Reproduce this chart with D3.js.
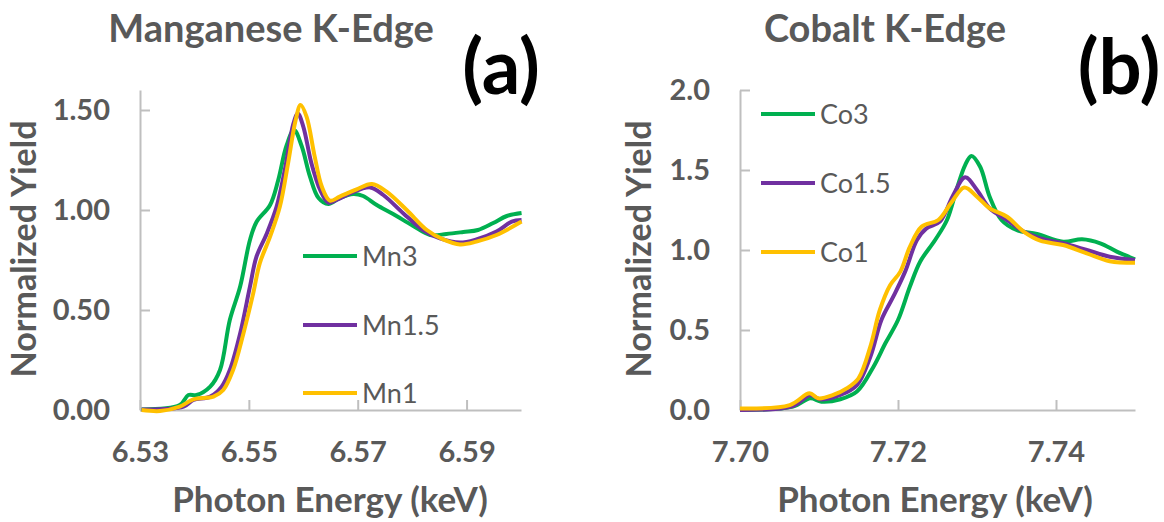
<!DOCTYPE html>
<html>
<head>
<meta charset="utf-8">
<script src="https://cdn.jsdelivr.net/npm/d3@7"></script>
<style>
  body { margin: 0; background: #fff; }
  svg { display: block; font-family: Lato, "Open Sans", sans-serif; }
</style>
</head>
<body>
<svg id="chart" width="1164" height="522"></svg>
<script>
// Mn K-edge, [energy keV, normalized yield]
var mn3 = [[6.5303,0.003],[6.5373,0.025],[6.5389,0.075],[6.5404,0.075],[6.5429,0.117],[6.5447,0.2],[6.5465,0.45],[6.5484,0.617],[6.5502,0.85],[6.5514,0.94],[6.5539,1.025],[6.5554,1.15],[6.5569,1.32],[6.5583,1.40],[6.5597,1.32],[6.5612,1.17],[6.5628,1.06],[6.5646,1.03],[6.5667,1.06],[6.5692,1.08],[6.5710,1.07],[6.5735,1.025],[6.5765,0.98],[6.5802,0.92],[6.5833,0.875],[6.5863,0.88],[6.5894,0.89],[6.5921,0.90],[6.5949,0.935],[6.5974,0.97],[6.6001,0.985]];
var mn15 = [[6.5303,0.003],[6.5380,0.017],[6.5398,0.05],[6.5429,0.067],[6.5450,0.117],[6.5465,0.2],[6.5484,0.383],[6.5502,0.617],[6.5514,0.767],[6.5533,0.883],[6.5551,1.017],[6.5566,1.20],[6.5582,1.433],[6.5590,1.483],[6.5600,1.417],[6.5615,1.233],[6.5631,1.10],[6.5646,1.037],[6.5661,1.05],[6.5686,1.083],[6.5723,1.113],[6.5747,1.075],[6.5784,0.983],[6.5820,0.90],[6.5851,0.858],[6.5888,0.837],[6.5918,0.853],[6.5955,0.892],[6.5983,0.942],[6.6001,0.95]];
var mn1 = [[6.5303,0.0],[6.5337,-0.005],[6.5373,0.017],[6.5398,0.053],[6.5435,0.067],[6.5453,0.10],[6.5471,0.20],[6.5490,0.383],[6.5508,0.583],[6.5520,0.733],[6.5539,0.867],[6.5557,1.017],[6.5572,1.233],[6.5586,1.45],[6.5595,1.525],[6.5606,1.467],[6.5621,1.267],[6.5634,1.117],[6.5649,1.047],[6.5667,1.067],[6.5698,1.103],[6.5726,1.13],[6.5753,1.092],[6.5790,1.0],[6.5827,0.90],[6.5857,0.853],[6.5888,0.828],[6.5918,0.842],[6.5955,0.875],[6.6001,0.942]];

// Co K-edge
var co3 = [[7.7000,0],[7.7067,0.021],[7.7089,0.073],[7.7103,0.052],[7.7127,0.067],[7.7148,0.115],[7.7169,0.271],[7.7184,0.417],[7.7200,0.5625],[7.7215,0.77],[7.7228,0.927],[7.7247,1.0625],[7.7262,1.1875],[7.7274,1.375],[7.7285,1.531],[7.7293,1.5875],[7.7304,1.52],[7.7316,1.333],[7.7331,1.1875],[7.7350,1.125],[7.7376,1.10],[7.7409,1.052],[7.7433,1.067],[7.7456,1.042],[7.7477,0.99],[7.7500,0.942]];
var co15 = [[7.7000,0],[7.7067,0.025],[7.7089,0.094],[7.7101,0.067],[7.7127,0.094],[7.7148,0.156],[7.7165,0.333],[7.7179,0.5625],[7.7194,0.708],[7.7209,0.865],[7.7224,1.0625],[7.7236,1.135],[7.7253,1.177],[7.7270,1.344],[7.7285,1.454],[7.7300,1.375],[7.7316,1.26],[7.7338,1.1875],[7.7359,1.115],[7.7380,1.073],[7.7409,1.042],[7.7439,1.0],[7.7468,0.958],[7.7500,0.9375]];
var co1 = [[7.7000,0.01],[7.7063,0.031],[7.7088,0.104],[7.7099,0.073],[7.7118,0.094],[7.7135,0.135],[7.7150,0.198],[7.7165,0.396],[7.7177,0.625],[7.7190,0.78],[7.7203,0.865],[7.7215,1.02],[7.7230,1.146],[7.7251,1.1875],[7.7268,1.30],[7.7284,1.39],[7.7300,1.333],[7.7316,1.26],[7.7338,1.208],[7.7359,1.115],[7.7380,1.058],[7.7409,1.031],[7.7439,0.979],[7.7468,0.93],[7.7500,0.92]];

var mnNames = ["Mn3", "Mn1.5", "Mn1"];
var coNames = ["Co3", "Co1.5", "Co1"];
var mnTicksX = [6.53, 6.55, 6.57, 6.59];
var mnTicksY = [0, 0.5, 1.0, 1.5];
var coTicksX = [7.70, 7.72, 7.74];
var coTicksY = [0, 0.5, 1.0, 1.5, 2.0];
var colors = ["#00B050", "#7030A0", "#FFC000"];

var svg = d3.select("#chart");
var grey = "#595959";

function panel(opt) {
    var x = d3.scaleLinear().domain(opt.xDomain).range([opt.left, opt.right]);
    var y = d3.scaleLinear().domain(opt.yDomain).range([410, 90]);
    var g = svg.append("g");

    // axes (inward ticks, Excel style)
    var yAxis = g.append("g")
        .attr("transform", "translate(" + opt.left + ",0)")
        .call(d3.axisLeft(y).tickValues(opt.yTicks).tickFormat(d3.format(opt.yFmt))
            .tickSizeInner(-10).tickSizeOuter(0).tickPadding(30));
    var xAxis = g.append("g")
        .attr("transform", "translate(0,410)")
        .call(d3.axisBottom(x).tickValues(opt.xTicks).tickFormat(d3.format(".2f"))
            .tickSizeInner(-10).tickSizeOuter(0).tickPadding(31));
    [yAxis, xAxis].forEach(function(a) {
        a.select(".domain").attr("stroke", "#BFBFBF").attr("stroke-width", 2);
        a.selectAll(".tick line").attr("stroke", "#BFBFBF").attr("stroke-width", 2);
        a.selectAll(".tick text")
            .attr("fill", grey)
            .style("font-size", "29px")
            .style("font-weight", "bold")
            .style("font-family", "Lato, sans-serif");
    });

    var line = d3.line()
        .x(function(d) { return x(d[0]); })
        .y(function(d) { return y(d[1]); })
        .curve(d3.curveCatmullRom.alpha(0.5));

    opt.series.forEach(function(s, i) {
        g.append("path")
            .datum(s)
            .attr("fill", "none")
            .attr("stroke", colors[i])
            .attr("stroke-width", 4)
            .attr("stroke-linejoin", "round")
            .attr("d", line);
    });

    // legend
    opt.names.forEach(function(n, i) {
        var ly = opt.legendY[i];
        g.append("line")
            .attr("x1", opt.legendX).attr("x2", opt.legendX + 54)
            .attr("y1", ly).attr("y2", ly)
            .attr("stroke", colors[i]).attr("stroke-width", 4);
        g.append("text")
            .attr("x", opt.legendX + 59).attr("y", ly)
            .attr("dy", "0.36em")
            .attr("fill", grey)
            .style("font-size", "27px")
            .text(n);
    });

    // titles
    g.append("text")
        .attr("x", opt.titleX).attr("y", 42)
        .attr("text-anchor", "middle")
        .attr("fill", grey)
        .style("font-size", "38px").style("font-weight", "bold")
        .text(opt.title);
    g.append("text")
        .attr("x", opt.xTitleX).attr("y", 512)
        .attr("text-anchor", "middle")
        .attr("fill", grey)
        .style("font-size", "35px").style("font-weight", "bold")
        .text("Photon Energy (keV)");
    g.append("text")
        .attr("transform", "translate(" + opt.yTitleX + ",249) rotate(-90)")
        .attr("text-anchor", "middle")
        .attr("fill", grey)
        .style("font-size", "34px").style("font-weight", "bold")
        .text("Normalized Yield");
    g.append("text")
        .attr("x", opt.tagX).attr("y", 94)
        .attr("text-anchor", "middle")
        .attr("fill", "#000")
        .style("font-size", "76px").style("font-weight", "bold")
        .text(opt.tag);
}

panel({
    xDomain: [6.53, 6.60], yDomain: [0, 1.6], left: 140, right: 521,
    xTicks: mnTicksX, yTicks: mnTicksY, yFmt: ".2f",
    series: [mn3, mn15, mn1], names: mnNames,
    legendX: 303, legendY: [256, 325, 393],
    title: "Manganese K-Edge", titleX: 271, xTitleX: 330, yTitleX: 36,
    tag: "(a)", tagX: 501
});

panel({
    xDomain: [7.70, 7.75], yDomain: [0, 2.0], left: 740, right: 1135,
    xTicks: coTicksX, yTicks: coTicksY, yFmt: ".1f",
    series: [co3, co15, co1], names: coNames,
    legendX: 761, legendY: [114, 183, 252],
    title: "Cobalt K-Edge", titleX: 885, xTitleX: 935, yTitleX: 651,
    tag: "(b)", tagX: 1119
});
</script>
</body>
</html>
